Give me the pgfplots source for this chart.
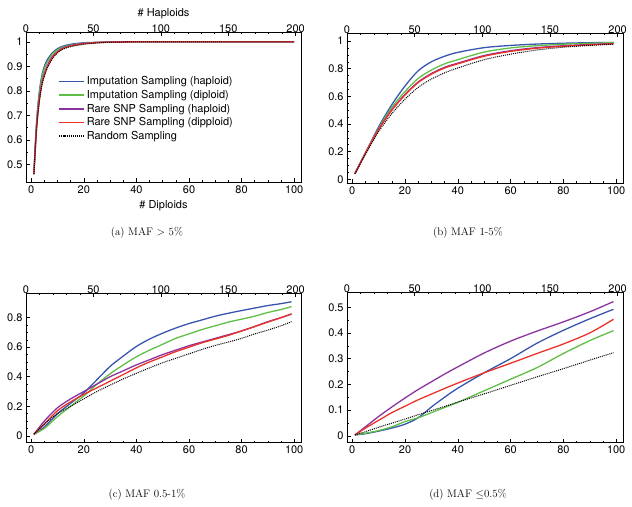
\documentclass[border=0pt]{standalone}
\usepackage{pgfplots}
\pgfplotsset{compat=1.18}
\usepackage{fontspec}
\newfontfamily\hv{TeX Gyre Heros}
\definecolor{cblue}{RGB}{55,85,175}
\definecolor{cgreen}{RGB}{95,190,70}
\definecolor{cpurple}{RGB}{140,50,160}
\definecolor{cred}{RGB}{235,50,40}
\tikzset{
  blueS/.style={color=cblue, line width=1.3pt},
  greenS/.style={color=cgreen, line width=1.3pt},
  purpleS/.style={color=cpurple, line width=1.3pt},
  redS/.style={color=cred, line width=1.3pt},
  blackS/.style={color=black, densely dotted, line width=1pt},
}
\pgfplotsset{
  panel/.style={
    scale only axis, anchor=south west,
    tick align=inside, major tick length=4bp, minor tick length=2bp,
    every tick/.style={black, line width=0.5pt},
    xtick pos=bottom, ytick pos=left,
    ticklabel style={font=\hv\fontsize{11}{13}\selectfont},
    label style={font=\hv\fontsize{11}{13}\selectfont},
    /pgf/number format/assume math mode=true,
    xmin=-2, xmax=102.6, xtick={0,20,...,100}, minor x tick num=3,
    axis line style={line width=0.8pt},
  },
  toppanel/.style={
    scale only axis, anchor=south west,
    axis x line*=top, axis y line=none,
    tick align=inside, major tick length=4bp, minor tick length=2bp,
    every tick/.style={black, line width=0.5pt},
    ticklabel style={font=\hv\fontsize{11}{13}\selectfont},
    xticklabel style={yshift=-4bp},
    label style={font=\hv\fontsize{11}{13}\selectfont},
    xlabel style={yshift=-1bp},
    /pgf/number format/assume math mode=true,
    xmin=0, xmax=204, xtick={0,50,...,200}, minor x tick num=4,
    ymin=0, ymax=1,
    axis line style={line width=0.8pt},
  },
}
\begin{document}
\begin{tikzpicture}
\useasboundingbox (0,0) rectangle (632bp,507bp);
% ---------- (a)
\begin{axis}[panel, at={(26bp,325bp)}, width=275bp, height=150bp,
  ymin=0.428, ymax=1.04, ytick={0.5,0.6,...,1.0}, minor y tick num=1,
  yticklabels={0.5,0.6,0.7,0.8,0.9,1},
  xlabel={\# Diploids},
  legend style={at={(0.105,0.73)}, anchor=north west, draw=none, fill=none,
    font=\hv\fontsize{11}{13}\selectfont},
  legend cell align=left,
  legend image code/.code={\draw[#1, line width=1.8pt] plot coordinates {(0bp,0bp) (12.5bp,0bp) (25bp,0bp)};},
]
\addplot[blueS, smooth] coordinates {(1,.46)(2,.67)(3,.79)(4,.86)(5,.90)(6,.925)(8,.955)(10,.972)(12,.982)(15,.99)(20,.996)(25,.998)(30,.999)(40,1)(50,1)(70,1)(100,1)};
\addplot[greenS, smooth] coordinates {(1,.46)(2,.66)(3,.78)(4,.85)(5,.89)(6,.915)(8,.95)(10,.967)(12,.978)(15,.987)(20,.994)(25,.997)(30,.999)(40,1)(50,1)(70,1)(100,1)};
\addplot[purpleS, smooth] coordinates {(1,.46)(2,.65)(3,.76)(4,.83)(5,.87)(6,.90)(8,.94)(10,.96)(12,.974)(15,.985)(20,.993)(25,.997)(30,.999)(40,1)(50,1)(70,1)(100,1)};
\addplot[redS, smooth] coordinates {(1,.46)(2,.645)(3,.755)(4,.825)(5,.865)(6,.895)(8,.935)(10,.958)(12,.972)(15,.983)(20,.992)(25,.997)(30,.998)(40,1)(50,1)(70,1)(100,1)};
\addplot[blackS, smooth] coordinates {(1,.46)(2,.64)(3,.75)(4,.82)(5,.86)(6,.89)(8,.93)(10,.955)(12,.97)(15,.98)(20,.99)(25,.995)(30,.998)(40,1)(50,1)(70,1)(100,1)};
\legend{Imputation Sampling (haploid),Imputation Sampling (diploid),Rare SNP Sampling (haploid),Rare SNP Sampling (dipploid),Random Sampling}
\end{axis}
\begin{axis}[toppanel, at={(26bp,325bp)}, width=275bp, height=150bp, xlabel={\# Haploids}]
\end{axis}
% ---------- (b)
\begin{axis}[panel, at={(347bp,324bp)}, width=276bp, height=150bp,
  ymin=-0.027, ymax=1.058, ytick={0,0.2,...,1.0}, minor y tick num=3,
  yticklabels={0,0.2,0.4,0.6,0.8,1}]
\addplot[blueS, smooth] coordinates {(1,.04)(5,.19)(10,.38)(15,.54)(20,.675)(25,.785)(30,.85)(35,.89)(40,.918)(50,.952)(60,.968)(70,.978)(80,.984)(90,.988)(99,.99)};
\addplot[greenS, smooth] coordinates {(1,.04)(5,.19)(10,.37)(15,.52)(20,.635)(25,.73)(30,.79)(35,.835)(40,.865)(50,.92)(60,.95)(70,.966)(80,.977)(90,.984)(99,.988)};
\addplot[purpleS, smooth] coordinates {(1,.04)(5,.19)(10,.362)(15,.503)(20,.614)(25,.704)(30,.765)(35,.81)(40,.84)(50,.895)(60,.93)(70,.952)(80,.966)(90,.975)(99,.982)};
\addplot[redS, smooth] coordinates {(1,.04)(5,.19)(10,.36)(15,.50)(20,.61)(25,.70)(30,.76)(35,.805)(40,.835)(50,.89)(60,.925)(70,.948)(80,.962)(90,.972)(99,.98)};
\addplot[blackS, smooth] coordinates {(1,.04)(5,.18)(10,.345)(15,.475)(20,.58)(25,.665)(30,.725)(35,.77)(40,.805)(50,.865)(60,.905)(70,.935)(80,.955)(90,.968)(99,.977)};
\end{axis}
\begin{axis}[toppanel, at={(347bp,324bp)}, width=276bp, height=150bp]
\end{axis}
% ---------- (c)
\begin{axis}[panel, at={(26bp,64.3bp)}, width=275bp, height=149.4bp,
  ymin=-0.047, ymax=0.965, ytick={0,0.2,...,0.8}, minor y tick num=3,
  yticklabels={0,0.2,0.4,0.6,0.8}]
\addplot[blueS, smooth] coordinates {(1,.01)(5,.06)(10,.15)(15,.22)(20,.29)(25,.38)(30,.47)(35,.54)(40,.605)(45,.655)(50,.695)(55,.73)(60,.76)(65,.785)(70,.81)(75,.83)(80,.848)(85,.865)(90,.882)(95,.895)(99,.908)};
\addplot[greenS, smooth] coordinates {(1,.01)(5,.05)(10,.13)(15,.2)(20,.27)(25,.35)(30,.42)(35,.48)(40,.535)(45,.58)(50,.62)(55,.66)(60,.69)(65,.72)(70,.745)(75,.77)(80,.79)(85,.81)(90,.835)(95,.855)(99,.875)};
\addplot[purpleS, smooth] coordinates {(1,.01)(5,.10)(10,.19)(15,.25)(20,.30)(25,.35)(30,.40)(35,.44)(40,.48)(45,.515)(50,.55)(55,.58)(60,.61)(65,.635)(70,.66)(75,.685)(80,.71)(85,.74)(90,.773)(95,.80)(99,.825)};
\addplot[redS, smooth] coordinates {(1,.01)(5,.08)(10,.17)(15,.23)(20,.28)(25,.325)(30,.37)(35,.415)(40,.46)(45,.50)(50,.535)(55,.57)(60,.60)(65,.63)(70,.655)(75,.68)(80,.71)(85,.74)(90,.77)(95,.80)(99,.825)};
\addplot[blackS, smooth] coordinates {(1,.01)(5,.08)(10,.15)(15,.20)(20,.25)(25,.30)(30,.343)(35,.385)(40,.423)(45,.46)(50,.495)(55,.525)(60,.555)(65,.585)(70,.612)(75,.635)(80,.66)(85,.69)(90,.716)(95,.745)(99,.773)};
\end{axis}
\begin{axis}[toppanel, at={(26bp,64.3bp)}, width=275bp, height=149.4bp]
\end{axis}
% ---------- (d)
\begin{axis}[panel, at={(347bp,64.3bp)}, width=276bp, height=150.4bp,
  ymin=-0.027, ymax=0.558, ytick={0,0.1,...,0.5}, minor y tick num=1,
  yticklabels={0,0.1,0.2,0.3,0.4,0.5}]
\addplot[blueS, smooth] coordinates {(1,.003)(5,.008)(10,.018)(15,.03)(20,.045)(25,.07)(30,.112)(35,.15)(40,.185)(50,.245)(60,.30)(70,.36)(80,.41)(90,.455)(99,.492)};
\addplot[greenS, smooth] coordinates {(1,.003)(5,.01)(10,.02)(15,.035)(20,.055)(25,.07)(30,.09)(35,.11)(40,.13)(50,.175)(60,.22)(70,.265)(80,.32)(90,.37)(99,.409)};
\addplot[purpleS, smooth] coordinates {(1,.003)(5,.035)(10,.075)(15,.112)(20,.147)(25,.18)(30,.21)(35,.24)(40,.268)(50,.322)(60,.368)(70,.407)(80,.443)(90,.482)(99,.522)};
\addplot[redS, smooth] coordinates {(1,.003)(5,.03)(10,.06)(15,.09)(20,.115)(25,.14)(30,.162)(35,.184)(40,.205)(50,.245)(60,.282)(70,.32)(80,.357)(90,.40)(99,.453)};
\addplot[blackS, smooth] coordinates {(1,.003)(5,.016)(10,.033)(15,.049)(20,.065)(25,.082)(30,.098)(35,.114)(40,.131)(50,.163)(60,.196)(70,.229)(80,.261)(90,.294)(99,.323)};
\end{axis}
\begin{axis}[toppanel, at={(347bp,64.3bp)}, width=276bp, height=150.4bp]
\end{axis}
% ---------- captions
\node[font=\fontsize{11}{13}\selectfont] at (147bp,274bp) {(a) MAF $>$ 5\%};
\node[font=\fontsize{11}{13}\selectfont] at (468bp,274bp) {(b) MAF 1-5\%};
\node[font=\fontsize{11}{13}\selectfont] at (147bp,12bp) {(c) MAF 0.5-1\%};
\node[font=\fontsize{11}{13}\selectfont] at (468bp,12bp) {(d) MAF $\leq$0.5\%};
\end{tikzpicture}
\end{document}
